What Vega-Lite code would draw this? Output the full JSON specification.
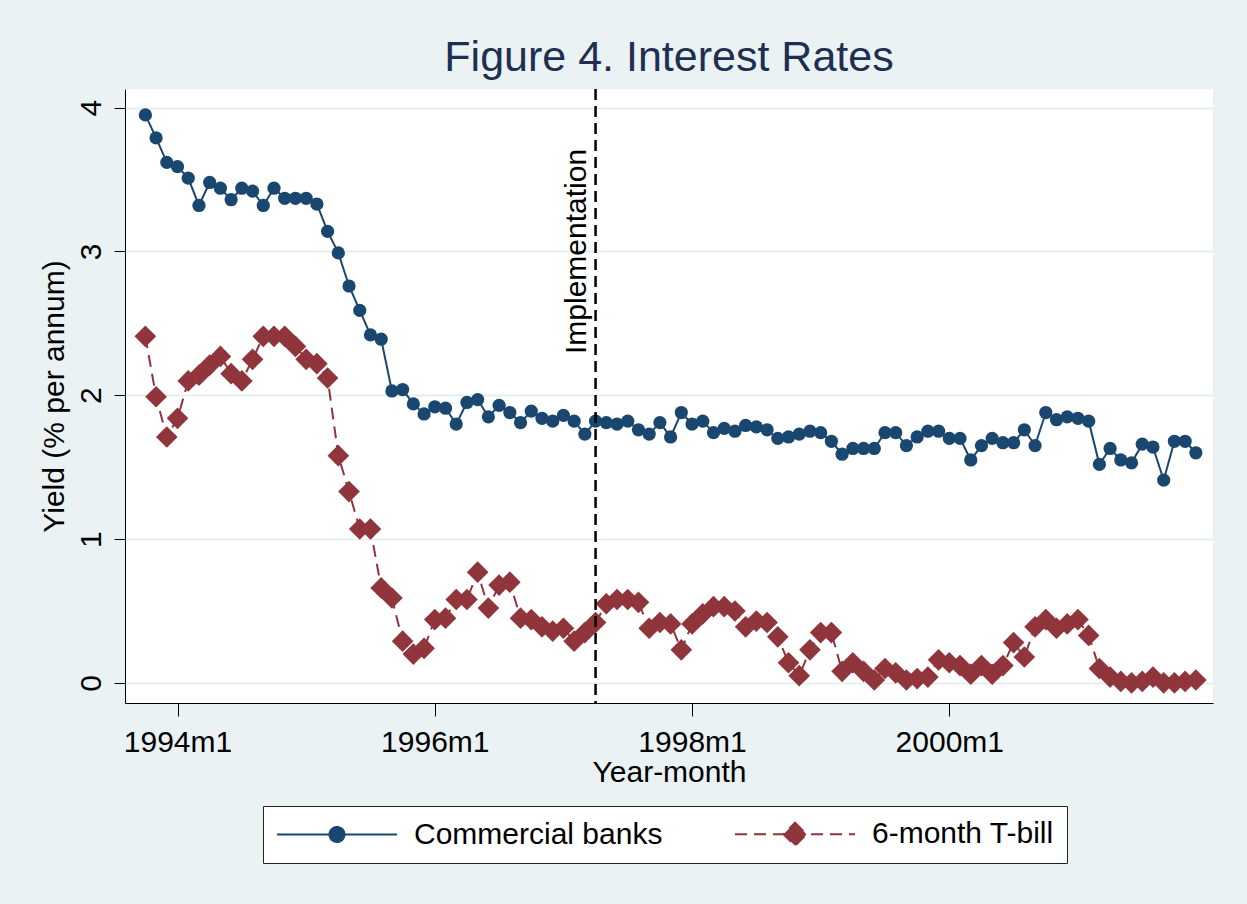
{
  "$schema": "https://vega.github.io/schema/vega-lite/v6.json",
  "description": "Figure 4. Interest Rates - commercial bank yield vs 6-month T-bill, monthly (Stata %tm month index)",
  "autosize": {"type": "none"},
  "width": 1088,
  "height": 614,
  "padding": {"left": 125, "top": 89, "right": 34, "bottom": 201},
  "background": "#eaf2f3",
  "title": {
    "text": "Figure 4. Interest Rates",
    "fontSize": 43,
    "fontWeight": "normal",
    "color": "#1f2f52",
    "anchor": "middle",
    "frame": "group",
    "offset": 8
  },
  "config": {
    "font": "Liberation Sans",
    "view": {"fill": "white", "stroke": null},
    "axis": {
      "labelColor": "black",
      "titleColor": "black",
      "domainColor": "black",
      "tickColor": "black",
      "labelFontSize": 30,
      "titleFontSize": 30,
      "titleFontWeight": "normal"
    }
  },
  "datasets": {
    "rates": [
      {"month": 405, "series": "Commercial banks", "rate": 3.95},
      {"month": 406, "series": "Commercial banks", "rate": 3.79},
      {"month": 407, "series": "Commercial banks", "rate": 3.62},
      {"month": 408, "series": "Commercial banks", "rate": 3.59},
      {"month": 409, "series": "Commercial banks", "rate": 3.51},
      {"month": 410, "series": "Commercial banks", "rate": 3.32},
      {"month": 411, "series": "Commercial banks", "rate": 3.48},
      {"month": 412, "series": "Commercial banks", "rate": 3.44},
      {"month": 413, "series": "Commercial banks", "rate": 3.36},
      {"month": 414, "series": "Commercial banks", "rate": 3.44},
      {"month": 415, "series": "Commercial banks", "rate": 3.42},
      {"month": 416, "series": "Commercial banks", "rate": 3.32},
      {"month": 417, "series": "Commercial banks", "rate": 3.44},
      {"month": 418, "series": "Commercial banks", "rate": 3.37},
      {"month": 419, "series": "Commercial banks", "rate": 3.37},
      {"month": 420, "series": "Commercial banks", "rate": 3.37},
      {"month": 421, "series": "Commercial banks", "rate": 3.33},
      {"month": 422, "series": "Commercial banks", "rate": 3.14},
      {"month": 423, "series": "Commercial banks", "rate": 2.99},
      {"month": 424, "series": "Commercial banks", "rate": 2.76},
      {"month": 425, "series": "Commercial banks", "rate": 2.59},
      {"month": 426, "series": "Commercial banks", "rate": 2.42},
      {"month": 427, "series": "Commercial banks", "rate": 2.39},
      {"month": 428, "series": "Commercial banks", "rate": 2.03},
      {"month": 429, "series": "Commercial banks", "rate": 2.04},
      {"month": 430, "series": "Commercial banks", "rate": 1.94},
      {"month": 431, "series": "Commercial banks", "rate": 1.87},
      {"month": 432, "series": "Commercial banks", "rate": 1.92},
      {"month": 433, "series": "Commercial banks", "rate": 1.91},
      {"month": 434, "series": "Commercial banks", "rate": 1.80},
      {"month": 435, "series": "Commercial banks", "rate": 1.95},
      {"month": 436, "series": "Commercial banks", "rate": 1.97},
      {"month": 437, "series": "Commercial banks", "rate": 1.85},
      {"month": 438, "series": "Commercial banks", "rate": 1.93},
      {"month": 439, "series": "Commercial banks", "rate": 1.88},
      {"month": 440, "series": "Commercial banks", "rate": 1.81},
      {"month": 441, "series": "Commercial banks", "rate": 1.89},
      {"month": 442, "series": "Commercial banks", "rate": 1.84},
      {"month": 443, "series": "Commercial banks", "rate": 1.82},
      {"month": 444, "series": "Commercial banks", "rate": 1.86},
      {"month": 445, "series": "Commercial banks", "rate": 1.82},
      {"month": 446, "series": "Commercial banks", "rate": 1.73},
      {"month": 447, "series": "Commercial banks", "rate": 1.82},
      {"month": 448, "series": "Commercial banks", "rate": 1.81},
      {"month": 449, "series": "Commercial banks", "rate": 1.80},
      {"month": 450, "series": "Commercial banks", "rate": 1.82},
      {"month": 451, "series": "Commercial banks", "rate": 1.76},
      {"month": 452, "series": "Commercial banks", "rate": 1.73},
      {"month": 453, "series": "Commercial banks", "rate": 1.81},
      {"month": 454, "series": "Commercial banks", "rate": 1.71},
      {"month": 455, "series": "Commercial banks", "rate": 1.88},
      {"month": 456, "series": "Commercial banks", "rate": 1.80},
      {"month": 457, "series": "Commercial banks", "rate": 1.82},
      {"month": 458, "series": "Commercial banks", "rate": 1.74},
      {"month": 459, "series": "Commercial banks", "rate": 1.77},
      {"month": 460, "series": "Commercial banks", "rate": 1.75},
      {"month": 461, "series": "Commercial banks", "rate": 1.79},
      {"month": 462, "series": "Commercial banks", "rate": 1.78},
      {"month": 463, "series": "Commercial banks", "rate": 1.76},
      {"month": 464, "series": "Commercial banks", "rate": 1.70},
      {"month": 465, "series": "Commercial banks", "rate": 1.71},
      {"month": 466, "series": "Commercial banks", "rate": 1.73},
      {"month": 467, "series": "Commercial banks", "rate": 1.75},
      {"month": 468, "series": "Commercial banks", "rate": 1.74},
      {"month": 469, "series": "Commercial banks", "rate": 1.68},
      {"month": 470, "series": "Commercial banks", "rate": 1.59},
      {"month": 471, "series": "Commercial banks", "rate": 1.63},
      {"month": 472, "series": "Commercial banks", "rate": 1.63},
      {"month": 473, "series": "Commercial banks", "rate": 1.63},
      {"month": 474, "series": "Commercial banks", "rate": 1.74},
      {"month": 475, "series": "Commercial banks", "rate": 1.74},
      {"month": 476, "series": "Commercial banks", "rate": 1.65},
      {"month": 477, "series": "Commercial banks", "rate": 1.71},
      {"month": 478, "series": "Commercial banks", "rate": 1.75},
      {"month": 479, "series": "Commercial banks", "rate": 1.75},
      {"month": 480, "series": "Commercial banks", "rate": 1.70},
      {"month": 481, "series": "Commercial banks", "rate": 1.70},
      {"month": 482, "series": "Commercial banks", "rate": 1.55},
      {"month": 483, "series": "Commercial banks", "rate": 1.65},
      {"month": 484, "series": "Commercial banks", "rate": 1.70},
      {"month": 485, "series": "Commercial banks", "rate": 1.67},
      {"month": 486, "series": "Commercial banks", "rate": 1.67},
      {"month": 487, "series": "Commercial banks", "rate": 1.76},
      {"month": 488, "series": "Commercial banks", "rate": 1.65},
      {"month": 489, "series": "Commercial banks", "rate": 1.88},
      {"month": 490, "series": "Commercial banks", "rate": 1.83},
      {"month": 491, "series": "Commercial banks", "rate": 1.85},
      {"month": 492, "series": "Commercial banks", "rate": 1.84},
      {"month": 493, "series": "Commercial banks", "rate": 1.82},
      {"month": 494, "series": "Commercial banks", "rate": 1.52},
      {"month": 495, "series": "Commercial banks", "rate": 1.63},
      {"month": 496, "series": "Commercial banks", "rate": 1.55},
      {"month": 497, "series": "Commercial banks", "rate": 1.53},
      {"month": 498, "series": "Commercial banks", "rate": 1.66},
      {"month": 499, "series": "Commercial banks", "rate": 1.64},
      {"month": 500, "series": "Commercial banks", "rate": 1.41},
      {"month": 501, "series": "Commercial banks", "rate": 1.68},
      {"month": 502, "series": "Commercial banks", "rate": 1.68},
      {"month": 503, "series": "Commercial banks", "rate": 1.60},
      {"month": 405, "series": "6-month T-bill", "rate": 2.41},
      {"month": 406, "series": "6-month T-bill", "rate": 1.99},
      {"month": 407, "series": "6-month T-bill", "rate": 1.71},
      {"month": 408, "series": "6-month T-bill", "rate": 1.84},
      {"month": 409, "series": "6-month T-bill", "rate": 2.10},
      {"month": 410, "series": "6-month T-bill", "rate": 2.14},
      {"month": 411, "series": "6-month T-bill", "rate": 2.21},
      {"month": 412, "series": "6-month T-bill", "rate": 2.27},
      {"month": 413, "series": "6-month T-bill", "rate": 2.15},
      {"month": 414, "series": "6-month T-bill", "rate": 2.10},
      {"month": 415, "series": "6-month T-bill", "rate": 2.25},
      {"month": 416, "series": "6-month T-bill", "rate": 2.41},
      {"month": 417, "series": "6-month T-bill", "rate": 2.41},
      {"month": 418, "series": "6-month T-bill", "rate": 2.41},
      {"month": 419, "series": "6-month T-bill", "rate": 2.34},
      {"month": 420, "series": "6-month T-bill", "rate": 2.25},
      {"month": 421, "series": "6-month T-bill", "rate": 2.22},
      {"month": 422, "series": "6-month T-bill", "rate": 2.12},
      {"month": 423, "series": "6-month T-bill", "rate": 1.58},
      {"month": 424, "series": "6-month T-bill", "rate": 1.33},
      {"month": 425, "series": "6-month T-bill", "rate": 1.07},
      {"month": 426, "series": "6-month T-bill", "rate": 1.07},
      {"month": 427, "series": "6-month T-bill", "rate": 0.66},
      {"month": 428, "series": "6-month T-bill", "rate": 0.59},
      {"month": 429, "series": "6-month T-bill", "rate": 0.29},
      {"month": 430, "series": "6-month T-bill", "rate": 0.20},
      {"month": 431, "series": "6-month T-bill", "rate": 0.24},
      {"month": 432, "series": "6-month T-bill", "rate": 0.44},
      {"month": 433, "series": "6-month T-bill", "rate": 0.45},
      {"month": 434, "series": "6-month T-bill", "rate": 0.58},
      {"month": 435, "series": "6-month T-bill", "rate": 0.58},
      {"month": 436, "series": "6-month T-bill", "rate": 0.77},
      {"month": 437, "series": "6-month T-bill", "rate": 0.52},
      {"month": 438, "series": "6-month T-bill", "rate": 0.68},
      {"month": 439, "series": "6-month T-bill", "rate": 0.70},
      {"month": 440, "series": "6-month T-bill", "rate": 0.45},
      {"month": 441, "series": "6-month T-bill", "rate": 0.44},
      {"month": 442, "series": "6-month T-bill", "rate": 0.39},
      {"month": 443, "series": "6-month T-bill", "rate": 0.36},
      {"month": 444, "series": "6-month T-bill", "rate": 0.38},
      {"month": 445, "series": "6-month T-bill", "rate": 0.29},
      {"month": 446, "series": "6-month T-bill", "rate": 0.35},
      {"month": 447, "series": "6-month T-bill", "rate": 0.42},
      {"month": 448, "series": "6-month T-bill", "rate": 0.55},
      {"month": 449, "series": "6-month T-bill", "rate": 0.58},
      {"month": 450, "series": "6-month T-bill", "rate": 0.58},
      {"month": 451, "series": "6-month T-bill", "rate": 0.56},
      {"month": 452, "series": "6-month T-bill", "rate": 0.38},
      {"month": 453, "series": "6-month T-bill", "rate": 0.42},
      {"month": 454, "series": "6-month T-bill", "rate": 0.41},
      {"month": 455, "series": "6-month T-bill", "rate": 0.23},
      {"month": 456, "series": "6-month T-bill", "rate": 0.41},
      {"month": 457, "series": "6-month T-bill", "rate": 0.48},
      {"month": 458, "series": "6-month T-bill", "rate": 0.53},
      {"month": 459, "series": "6-month T-bill", "rate": 0.53},
      {"month": 460, "series": "6-month T-bill", "rate": 0.50},
      {"month": 461, "series": "6-month T-bill", "rate": 0.39},
      {"month": 462, "series": "6-month T-bill", "rate": 0.43},
      {"month": 463, "series": "6-month T-bill", "rate": 0.42},
      {"month": 464, "series": "6-month T-bill", "rate": 0.32},
      {"month": 465, "series": "6-month T-bill", "rate": 0.14},
      {"month": 466, "series": "6-month T-bill", "rate": 0.05},
      {"month": 467, "series": "6-month T-bill", "rate": 0.23},
      {"month": 468, "series": "6-month T-bill", "rate": 0.35},
      {"month": 469, "series": "6-month T-bill", "rate": 0.35},
      {"month": 470, "series": "6-month T-bill", "rate": 0.08},
      {"month": 471, "series": "6-month T-bill", "rate": 0.14},
      {"month": 472, "series": "6-month T-bill", "rate": 0.08},
      {"month": 473, "series": "6-month T-bill", "rate": 0.02},
      {"month": 474, "series": "6-month T-bill", "rate": 0.10},
      {"month": 475, "series": "6-month T-bill", "rate": 0.07},
      {"month": 476, "series": "6-month T-bill", "rate": 0.02},
      {"month": 477, "series": "6-month T-bill", "rate": 0.03},
      {"month": 478, "series": "6-month T-bill", "rate": 0.04},
      {"month": 479, "series": "6-month T-bill", "rate": 0.16},
      {"month": 480, "series": "6-month T-bill", "rate": 0.14},
      {"month": 481, "series": "6-month T-bill", "rate": 0.12},
      {"month": 482, "series": "6-month T-bill", "rate": 0.06},
      {"month": 483, "series": "6-month T-bill", "rate": 0.12},
      {"month": 484, "series": "6-month T-bill", "rate": 0.06},
      {"month": 485, "series": "6-month T-bill", "rate": 0.12},
      {"month": 486, "series": "6-month T-bill", "rate": 0.28},
      {"month": 487, "series": "6-month T-bill", "rate": 0.18},
      {"month": 488, "series": "6-month T-bill", "rate": 0.39},
      {"month": 489, "series": "6-month T-bill", "rate": 0.44},
      {"month": 490, "series": "6-month T-bill", "rate": 0.38},
      {"month": 491, "series": "6-month T-bill", "rate": 0.41},
      {"month": 492, "series": "6-month T-bill", "rate": 0.44},
      {"month": 493, "series": "6-month T-bill", "rate": 0.33},
      {"month": 494, "series": "6-month T-bill", "rate": 0.10},
      {"month": 495, "series": "6-month T-bill", "rate": 0.04},
      {"month": 496, "series": "6-month T-bill", "rate": 0.01},
      {"month": 497, "series": "6-month T-bill", "rate": 0.00},
      {"month": 498, "series": "6-month T-bill", "rate": 0.01},
      {"month": 499, "series": "6-month T-bill", "rate": 0.04},
      {"month": 500, "series": "6-month T-bill", "rate": 0.00},
      {"month": 501, "series": "6-month T-bill", "rate": 0.00},
      {"month": 502, "series": "6-month T-bill", "rate": 0.01},
      {"month": 503, "series": "6-month T-bill", "rate": 0.02}
    ],
    "events": [
      {"month": 447, "rate": 3, "label": "Implementation"}
    ]
  },
  "data": {"name": "rates"},
  "encoding": {
    "x": {
      "field": "month",
      "type": "quantitative",
      "scale": {"domain": [403.1, 504.6], "nice": false, "zero": false},
      "axis": {
        "title": "Year-month",
        "values": [408, 432, 456, 480],
        "labelExpr": "floor(datum.value / 12) + 1960 + 'm' + (datum.value % 12 + 1)",
        "grid": false,
        "tickSize": 13,
        "labelPadding": 11,
        "titlePadding": 0,
        "labelFlush": false
      }
    },
    "y": {
      "field": "rate",
      "type": "quantitative",
      "scale": {"domain": [-0.14, 4.13], "nice": false, "zero": false},
      "axis": {
        "title": "Yield (% per annum)",
        "values": [0, 1, 2, 3, 4],
        "grid": true,
        "gridColor": "#e6eef0",
        "gridWidth": 2,
        "tickSize": 11,
        "labelAngle": 270,
        "labelAlign": "center",
        "labelBaseline": "alphabetic",
        "labelPadding": 14,
        "titleBaseline": "alphabetic",
        "titlePadding": 13
      }
    }
  },
  "layer": [
    {
      "transform": [{"filter": "datum.series === 'Commercial banks'"}],
      "mark": {"type": "line", "color": "#1a476f", "strokeWidth": 2}
    },
    {
      "transform": [{"filter": "datum.series === 'Commercial banks'"}],
      "mark": {"type": "point", "shape": "circle", "filled": true, "size": 175, "color": "#1a476f", "opacity": 1}
    },
    {
      "transform": [{"filter": "datum.series === '6-month T-bill'"}],
      "mark": {"type": "line", "color": "#90353b", "strokeWidth": 2, "strokeDash": [12, 7]}
    },
    {
      "transform": [{"filter": "datum.series === '6-month T-bill'"}],
      "mark": {"type": "point", "shape": "diamond", "filled": true, "size": 470, "color": "#90353b", "opacity": 1}
    },
    {
      "data": {"name": "events"},
      "mark": {"type": "rule", "color": "black", "strokeWidth": 2.5, "strokeDash": [11, 6]},
      "encoding": {"y": null}
    },
    {
      "data": {"name": "events"},
      "mark": {"type": "text", "angle": 270, "align": "center", "baseline": "alphabetic", "dy": -10, "fontSize": 30, "color": "black"},
      "encoding": {"text": {"field": "label"}}
    },
    {
      "data": {"values": []},
      "mark": {"type": "point", "filled": true, "opacity": 1, "strokeWidth": 2},
      "encoding": {
        "color": {
          "field": "series",
          "type": "nominal",
          "scale": {"domain": ["Commercial banks", "6-month T-bill"], "range": ["#1a476f", "#90353b"]},
          "legend": {
            "title": null,
            "orient": "none",
            "legendX": 138,
            "legendY": 717,
            "direction": "horizontal",
            "padding": 13,
            "fillColor": "white",
            "strokeColor": "#222222",
            "cornerRadius": 0,
            "labelFontSize": 30,
            "labelColor": "black",
            "labelLimit": 0,
            "symbolSize": 400,
            "symbolStrokeWidth": 2,
            "symbolOffset": 46,
            "labelOffset": 62,
            "columnPadding": 68
          }
        },
        "stroke": {
          "field": "series",
          "type": "nominal",
          "scale": {"domain": ["Commercial banks", "6-month T-bill"], "range": ["#1a476f", "#90353b"]}
        },
        "shape": {
          "field": "series",
          "type": "nominal",
          "scale": {
            "domain": ["Commercial banks", "6-month T-bill"],
            "range": [
              "M-6,0L6,0M0.75,0A0.75,0.75,0,1,1,-0.75,0A0.75,0.75,0,1,1,0.75,0Z",
              "M-6,0L6,0M0,-1.15L1.15,0L0,1.15L-1.15,0Z"
            ]
          }
        },
        "strokeDash": {
          "field": "series",
          "type": "nominal",
          "scale": {"domain": ["Commercial banks", "6-month T-bill"], "range": [[1, 0], [12, 7]]}
        }
      }
    }
  ]
}
